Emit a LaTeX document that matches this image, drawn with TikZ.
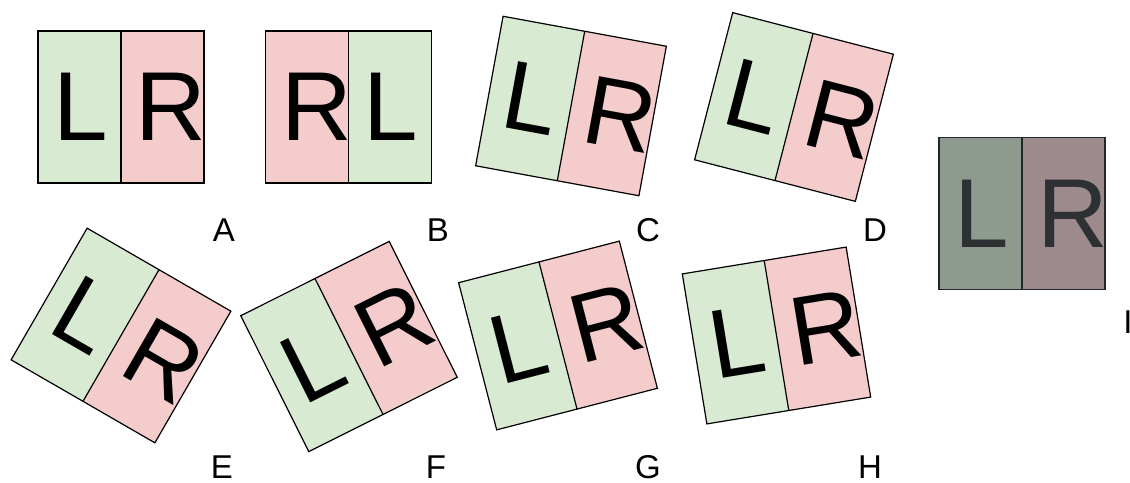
\documentclass[tikz,border=0pt]{standalone}
\usepackage{fontspec}
\setmainfont{Liberation Sans}
\definecolor{lrgreen}  {RGB}{217,234,211}
\definecolor{lrpink}   {RGB}{244,204,204}
\definecolor{lrgreendk}{RGB}{143,154,143}
\definecolor{lrpinkdk} {RGB}{157,138,141}
\definecolor{lrink}    {RGB}{45,49,52}
\usepackage{tikz}
\tikzset{
  lrframe/.style={draw=#1,line width=1.2pt,line join=miter},
  lrframe/.default=black,
  lrglyph/.style={inner sep=0pt,text=#1,transform shape,
                  font=\fontsize{98}{98}\selectfont},
  lrglyph/.default=black,
  lrtag/.style={inner sep=0pt,font=\fontsize{33}{33}\selectfont},
}
\begin{document}
\begin{tikzpicture}[x=1pt,y=-1pt]
  \useasboundingbox (0,0) rectangle (1130,482);
  % panels: name/centre/angle/fills/letters/letter shifts/ink/border
  \foreach \nm/\cx/\cy/\ang/\fl/\fr/\tl/\tr/\dl/\dr/\ink/\edge in {
      A/121/107/0/lrgreen/lrpink/L/R/1/8.5/black/black,
      B/348.5/107/0/lrpink/lrgreen/R/L/9.5/1/black/black,
      C/571/106/-10.4/lrgreen/lrpink/L/R/1/8.5/black/black,
      D/794/107/-14.5/lrgreen/lrpink/L/R/1/8.5/black/black,
      E/121/335.5/-30/lrgreen/lrpink/L/R/1/8.5/black/black,
      F/349/346.5/26.6/lrgreen/lrpink/L/R/1/8.5/black/black,
      G/558/335.5/14.5/lrgreen/lrpink/L/R/1/8.5/black/black,
      H/776.5/335.5/9.3/lrgreen/lrpink/L/R/1/8.5/black/black,
      I/1022/213.5/0/lrgreendk/lrpinkdk/L/R/1/9/lrink/lrink!80!black}{
    \begin{scope}[shift={(\cx,\cy)},rotate=\ang]
      \fill[\fl] (-83,-76) rectangle (0,76);
      \fill[\fr] (0,-76) rectangle (83,76);
      \draw[lrframe=\edge] (-83,-76) rectangle (83,76) (0,-76) -- (0,76);
      \node[lrglyph=\ink] (\nm-l) at (-41.5+\dl,0) {\tl};
      \node[lrglyph=\ink] (\nm-r) at (41.5+\dr,0) {\tr};
    \end{scope}
  }
  % answer tags
  \foreach \nm/\x/\y in {A/224/230,B/438/230,C/648/230,D/875/230,
                         E/222/467,F/436/467,G/648/467,H/870/467,I/1128/322}{
    \node[lrtag] (tag-\nm) at (\x,\y) {\nm};
  }
\end{tikzpicture}
\end{document}
